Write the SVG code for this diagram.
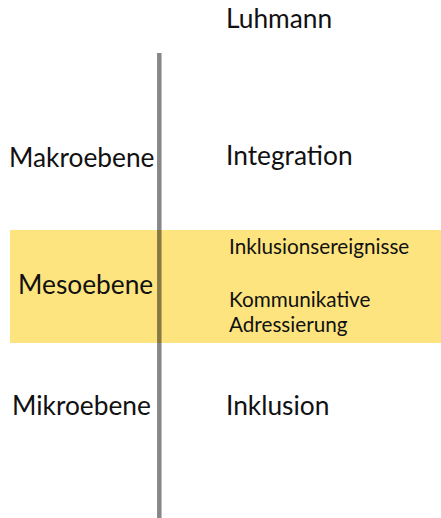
<svg xmlns="http://www.w3.org/2000/svg" width="441" height="518" viewBox="0 0 441 518">
  <style>
    text { font-family: Lato, "Open Sans", "Liberation Sans", sans-serif; fill: #111; }
    .big { font-size: 26.3px; }
    .small { font-size: 20.7px; }
    .axis { stroke: #000; stroke-opacity: 0.47; stroke-width: 4.5; }
  </style>
  <rect width="441" height="518" fill="#fff"/>
  <g id="band-meso">
    <rect x="10" y="230" width="431" height="113" fill="#fde47f"/>
  </g>
  <g id="connectors">
    <line class="axis" x1="159.3" y1="53" x2="159.3" y2="518"/>
  </g>
  <g id="title"><text class="big" x="226" y="28">Luhmann</text></g>
  <g id="makro">
    <text class="big" x="9" y="167">Makroebene</text>
  </g>
  <g id="integration">
    <text class="big" x="226" y="165">Integration</text>
  </g>
  <g id="meso">
    <text class="big" x="18" y="294">Mesoebene</text>
  </g>
  <g id="meso-items">
    <text class="small" x="229" y="254">Inklusionsereignisse</text>
    <text class="small" x="229" y="307">Kommunikative</text>
    <text class="small" x="229" y="332">Adressierung</text>
  </g>
  <g id="mikro">
    <text class="big" x="12" y="415">Mikroebene</text>
  </g>
  <g id="inklusion">
    <text class="big" x="226" y="415">Inklusion</text>
  </g>
</svg>
